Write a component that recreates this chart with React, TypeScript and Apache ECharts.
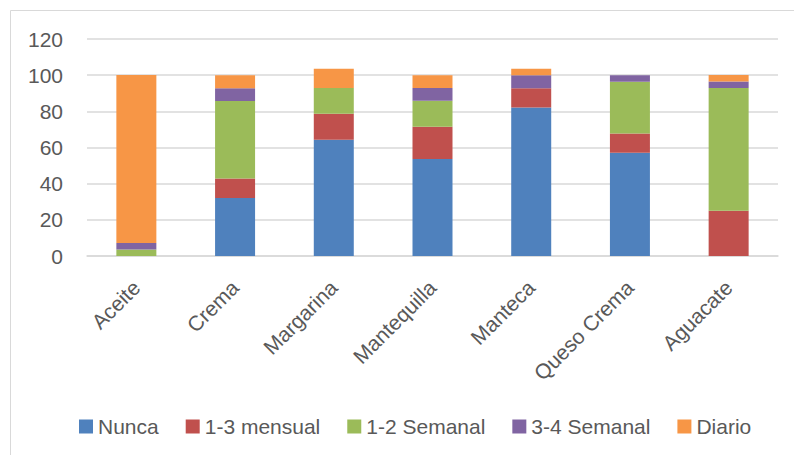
import React, { useEffect, useRef } from "react";
import * as echarts from "echarts";

const categories = ["Aceite", "Crema", "Margarina", "Mantequilla", "Manteca", "Queso Crema", "Aguacate"];
const seriesNames = ["Nunca", "1-3 mensual", "1-2 Semanal", "3-4 Semanal", "Diario"];
const nunca = [0, 32.1, 64.3, 53.6, 82.1, 57.1, 0];
const mensual = [0, 10.7, 14.3, 17.9, 10.7, 10.7, 25];
const semanal12 = [3.6, 42.9, 14.3, 14.3, 0, 28.6, 67.9];
const semanal34 = [3.6, 7.1, 0, 7.1, 7.1, 3.6, 3.6];
const diario = [92.9, 7.1, 10.7, 7.1, 3.6, 0, 3.6];
const colors = ["#4f81bd", "#c0504d", "#9bbb59", "#8064a2", "#f79646"];

const FONT = "'Liberation Sans', Arial, sans-serif";

export default function App() {
  const ref = useRef<HTMLDivElement>(null);
  useEffect(() => {
    if (!ref.current) return;
    const chart = echarts.init(ref.current, undefined, { renderer: "svg" });
    const allData = [nunca, mensual, semanal12, semanal34, diario];
    chart.setOption({
      animation: false,
      backgroundColor: "#ffffff",
      color: colors,
      textStyle: { fontFamily: FONT },
      grid: { left: 87, right: 16, top: 39, bottom: 199, containLabel: false },
      legend: {
        left: 74,
        top: 411,
        itemWidth: 14,
        itemHeight: 14,
        itemGap: 27,
        icon: "rect",
        textStyle: { fontSize: 21, color: "#595959", fontFamily: FONT },
        data: seriesNames,
      },
      xAxis: {
        type: "category",
        data: categories,
        axisLine: { show: true, lineStyle: { color: "#d9d9d9", width: 1.5 } },
        axisTick: { show: false },
        axisLabel: {
          rotate: 45,
          margin: 28,
          fontSize: 21,
          color: "#595959",
          fontFamily: FONT,
          interval: 0,
        },
      },
      yAxis: {
        type: "value",
        min: 0,
        max: 120,
        interval: 20,
        axisLine: { show: false },
        axisTick: { show: false },
        splitLine: { lineStyle: { color: "#d9d9d9", width: 1.5 } },
        axisLabel: { fontSize: 21, color: "#595959", margin: 24, fontFamily: FONT },
      },
      graphic: [
        { type: "line", shape: { x1: 10.5, y1: 10.5, x2: 794, y2: 10.5 }, style: { stroke: "#d9d9d9", lineWidth: 1 } },
        { type: "line", shape: { x1: 10.5, y1: 10.5, x2: 10.5, y2: 455 }, style: { stroke: "#d9d9d9", lineWidth: 1 } },
      ],
      series: seriesNames.map((name, i) => ({
        name,
        type: "bar",
        stack: "total",
        barWidth: 40,
        data: allData[i],
        itemStyle: { color: colors[i] },
      })),
    });
    return () => chart.dispose();
  }, []);
  return <div ref={ref} style={{ position: "absolute", left: 0, top: 0, width: 794, height: 455 }} />;
}
